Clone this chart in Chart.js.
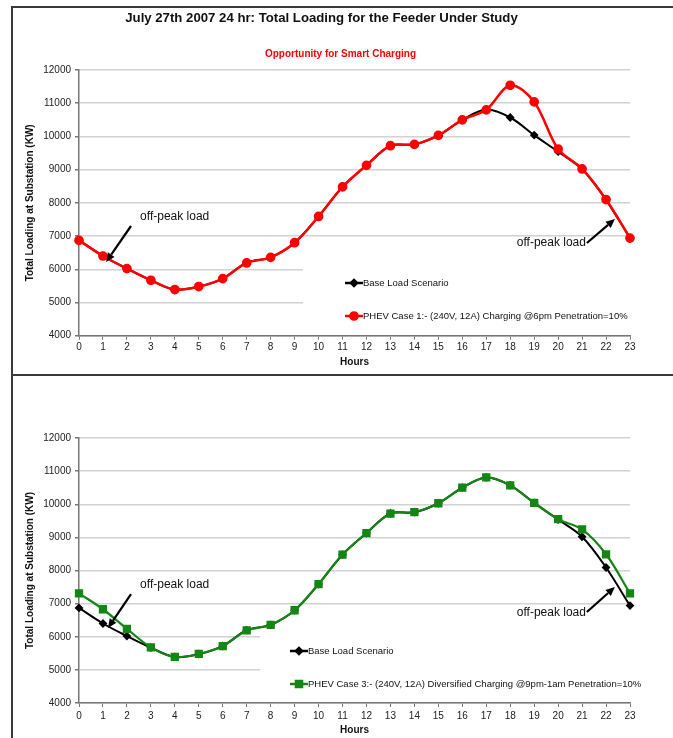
<!DOCTYPE html>
<html>
<head>
<meta charset="utf-8">
<title>July 27th 2007 24 hr: Total Loading for the Feeder Under Study</title>
<script src="https://cdn.jsdelivr.net/npm/chart.js@4.4.1/dist/chart.umd.min.js"></script>
<style>
  html, body { margin: 0; padding: 0; background: #fff; }
  #page { position: relative; width: 673px; height: 738px; overflow: hidden; }
  .rule { position: absolute; background: #3a3a3a; }
  canvas { position: absolute; }
</style>
</head>
<body>
<div id="page">
  <div class="rule" style="left:11px; top:6px; width:662px; height:2px"></div>
  <div class="rule" style="left:11px; top:6px; width:2px; height:732px"></div>
  <div class="rule" style="left:11px; top:374px; width:662px; height:2px"></div>
  <canvas id="case1-chart" style="left:14px; top:8px" width="659" height="366"></canvas>
  <canvas id="case3-chart" style="left:14px; top:377px" width="659" height="361"></canvas>
</div>
<script>
const FONT = '"Liberation Sans", Arial, Helvetica, sans-serif';

const HOURS = ['0', '1', '2', '3', '4', '5', '6', '7', '8', '9', '10', '11',
  '12', '13', '14', '15', '16', '17', '18', '19', '20', '21', '22', '23'];
const Y_TICKS = [4000, 5000, 6000, 7000, 8000, 9000, 10000, 11000, 12000];

const BASE_LOAD = [6870, 6400, 6020, 5670, 5390, 5480, 5720, 6200, 6360, 6800, 7590, 8480,
  9130, 9720, 9760, 10030, 10500, 10810, 10570, 10040, 9540, 9020, 8090, 6940];
const CASE1_LOAD = [6870, 6400, 6020, 5670, 5390, 5480, 5720, 6190, 6360, 6800, 7590, 8480,
  9130, 9720, 9760, 10030, 10500, 10800, 11540, 11040, 9620, 9020, 8100, 6940];
const CASE3_LOAD = [7310, 6830, 6240, 5680, 5390, 5480, 5720, 6190, 6360, 6800, 7590, 8480,
  9130, 9720, 9760, 10030, 10500, 10810, 10570, 10040, 9550, 9240, 8490, 7310];

const BASE_LABEL = 'Base Load Scenario';
const CASE1_LABEL = 'PHEV Case 1:- (240V, 12A) Charging @6pm Penetration=10%';
const CASE3_LABEL = 'PHEV Case 3:- (240V, 12A) Diversified Charging @9pm-1am Penetration=10%';
const NOTE_TEXT = 'off-peak load';

// titles, arrows with their notes, and the boxed legend
const decorPlugin = {
  id: 'decor',
  beforeDatasetsDraw(chart, args, opts) {
    const { ctx, chartArea } = chart;
    const lg = opts.legend;
    ctx.save();
    ctx.fillStyle = '#fff';
    ctx.fillRect(chartArea.left + lg.boxLeft, chartArea.top + lg.boxTop,
      chartArea.right - chartArea.left - lg.boxLeft + 1, lg.boxHeight);
    ctx.restore();
  },
  afterDraw(chart, args, opts) {
    const { ctx, chartArea, scales } = chart;
    const toPx = (p) => [scales.x.getPixelForValue(p[0]), scales.y.getPixelForValue(p[1])];
    ctx.save();

    (opts.titles || []).forEach((t) => {
      ctx.font = t.font;
      ctx.fillStyle = t.color;
      ctx.textAlign = 'center';
      ctx.textBaseline = 'middle';
      ctx.fillText(t.text, t.x, t.y);
    });

    (opts.notes || []).forEach((n) => {
      const [tx, ty] = toPx(n.at);
      ctx.font = '12px ' + FONT;
      ctx.fillStyle = '#111';
      ctx.textAlign = n.align;
      ctx.textBaseline = 'middle';
      ctx.fillText(NOTE_TEXT, tx, ty);

      const [x0, y0] = toPx(n.from);
      const [x1, y1] = toPx(n.to);
      const ang = Math.atan2(y1 - y0, x1 - x0);
      const headLen = 9;
      const headW = 4;
      const bx = x1 - headLen * Math.cos(ang);
      const by = y1 - headLen * Math.sin(ang);
      ctx.strokeStyle = '#000';
      ctx.lineWidth = 2.2;
      ctx.beginPath();
      ctx.moveTo(x0, y0);
      ctx.lineTo(bx, by);
      ctx.stroke();
      ctx.fillStyle = '#000';
      ctx.beginPath();
      ctx.moveTo(x1, y1);
      ctx.lineTo(bx + headW * Math.sin(ang), by - headW * Math.cos(ang));
      ctx.lineTo(bx - headW * Math.sin(ang), by + headW * Math.cos(ang));
      ctx.closePath();
      ctx.fill();
    });

    const lg = opts.legend;
    lg.rows.forEach((row) => {
      const ds = chart.data.datasets[row.dataset];
      const x0 = chartArea.left + lg.sampleLeft;
      const y = chartArea.top + row.dy;
      ctx.strokeStyle = ds.borderColor;
      ctx.lineWidth = 2.5;
      ctx.beginPath();
      ctx.moveTo(x0, y);
      ctx.lineTo(x0 + 18, y);
      ctx.stroke();
      ctx.fillStyle = ds.backgroundColor;
      Chart.helpers.drawPoint(ctx, {
        pointStyle: ds.pointStyle, radius: ds.pointRadius, borderWidth: 1, rotation: 0,
      }, x0 + 9, y);
      ctx.font = '9.5px ' + FONT;
      ctx.fillStyle = '#111';
      ctx.textAlign = 'left';
      ctx.textBaseline = 'middle';
      ctx.fillText(ds.label, x0 + 18, y);
    });
    ctx.restore();
  },
};

function makeLoadChart(canvasId, setup) {
  return new Chart(document.getElementById(canvasId), {
    type: 'line',
    data: { labels: HOURS, datasets: setup.datasets },
    plugins: [decorPlugin],
    options: {
      responsive: false,
      animation: false,
      devicePixelRatio: 1,
      events: [],
      layout: { padding: { left: 0, right: setup.padRight, top: setup.padTop, bottom: 0 } },
      elements: {
        line: { tension: 0.33, fill: false },
        point: { borderWidth: 1 },
      },
      scales: {
        x: {
          type: 'category',
          offset: false,
          afterFit: (scale) => { scale.height = setup.xHeight; },
          grid: { drawOnChartArea: false, drawTicks: true, tickLength: 4, tickColor: '#777' },
          border: { color: '#777', width: 1.5 },
          ticks: { font: { family: FONT, size: 10 }, color: '#222', padding: setup.xTickPad, autoSkip: false, maxRotation: 0 },
          title: {
            display: true, text: 'Hours', color: '#111',
            font: { family: FONT, size: 10, weight: 'bold' },
            padding: { top: 0, bottom: setup.xTitlePad },
          },
        },
        y: {
          min: 4000,
          max: 12000,
          afterBuildTicks: (scale) => { scale.ticks = Y_TICKS.map((v) => ({ value: v })); },
          afterFit: (scale) => { scale.width = 65; },
          grid: { color: '#d2d2d2', lineWidth: 1.5, tickLength: 4, tickColor: '#777' },
          border: { color: '#777', width: 1.5 },
          ticks: {
            font: { family: FONT, size: 10 }, color: '#222', padding: 4,
            callback: (value) => String(value),
          },
          title: {
            display: true, text: 'Total Loading at Substation (KW)', color: '#111',
            font: { family: FONT, size: 10, weight: 'bold' },
            padding: { top: 10, bottom: 0 },
          },
        },
      },
      plugins: {
        legend: { display: false },
        tooltip: { enabled: false },
        decor: setup.decor,
      },
    },
  });
}

makeLoadChart('case1-chart', {
  padRight: 43,
  padTop: 62,
  xHeight: 38.3,
  xTickPad: 2,
  xTitlePad: 6,
  datasets: [
    {
      label: BASE_LABEL, data: BASE_LOAD, order: 1,
      borderColor: '#000', backgroundColor: '#000', borderWidth: 2,
      pointStyle: 'rectRot', pointRadius: 3,
    },
    {
      label: CASE1_LABEL, data: CASE1_LOAD, order: 0,
      borderColor: '#ff0000', backgroundColor: '#ff0000', borderWidth: 2.5,
      pointStyle: 'circle', pointRadius: 3.6,
    },
  ],
  decor: {
    titles: [
      { text: 'July 27th 2007 24 hr: Total Loading for the Feeder Under Study', x: 307.5, y: 10, font: 'bold 13.2px ' + FONT, color: '#111' },
      { text: 'Opportunity for Smart Charging', x: 326.5, y: 46, font: 'bold 10px ' + FONT, color: '#ff0000' },
    ],
    notes: [
      { at: [2.55, 7574], align: 'left', from: [2.17, 7303], to: [1.13, 6219] },
      { at: [21.16, 6791], align: 'right', from: [21.2, 6791], to: [22.37, 7514] },
    ],
    legend: {
      boxLeft: 224, boxTop: 182, boxHeight: 81, sampleLeft: 266,
      rows: [{ dataset: 0, dy: 213 }, { dataset: 1, dy: 246 }],
    },
  },
});

makeLoadChart('case3-chart', {
  padRight: 43,
  padTop: 61,
  xHeight: 35,
  xTickPad: 3,
  xTitlePad: 2,
  datasets: [
    {
      label: BASE_LABEL, data: BASE_LOAD, order: 1,
      borderColor: '#000', backgroundColor: '#000', borderWidth: 2,
      pointStyle: 'rectRot', pointRadius: 3,
    },
    {
      label: CASE3_LABEL, data: CASE3_LOAD, order: 0,
      borderColor: '#138613', backgroundColor: '#138613', borderWidth: 2.2,
      pointStyle: 'rect', pointRadius: 4.3,
    },
  ],
  decor: {
    notes: [
      { at: [2.55, 7562], align: 'left', from: [2.17, 7290], to: [1.21, 6264] },
      { at: [21.16, 6732], align: 'right', from: [21.2, 6747], to: [22.37, 7502] },
    ],
    legend: {
      boxLeft: 181, boxTop: 193, boxHeight: 70, sampleLeft: 211,
      rows: [{ dataset: 0, dy: 213 }, { dataset: 1, dy: 246 }],
    },
  },
});
</script>
</body>
</html>
